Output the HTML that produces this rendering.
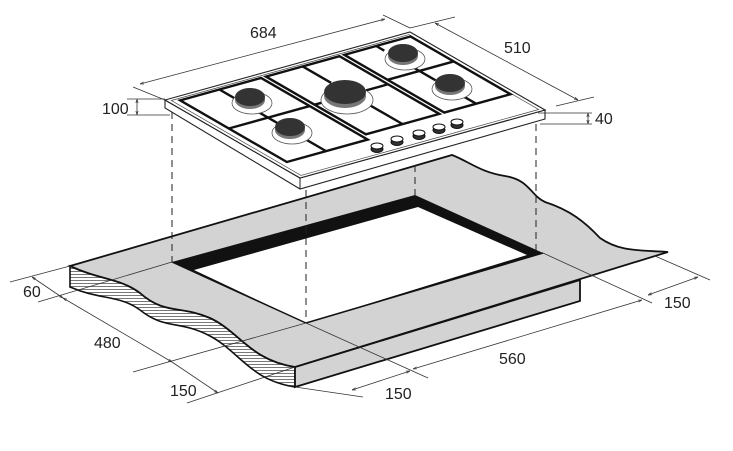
<!DOCTYPE html>
<html><head><meta charset="utf-8"><style>
html,body{margin:0;padding:0;background:#fff}
svg{display:block}
text{font-family:"Liberation Sans",sans-serif;font-size:16px;fill:#222}
</style></head><body>
<svg width="733" height="451" viewBox="0 0 733 451" xmlns="http://www.w3.org/2000/svg">
<defs>
<pattern id="hat" width="6" height="3" patternUnits="userSpaceOnUse"><rect width="6" height="3" fill="#fff"/><line x1="0" y1="1.5" x2="6" y2="1.5" stroke="#555" stroke-width="0.8"/></pattern>
<marker id="ar" viewBox="0 0 10 10" refX="10" refY="5" markerWidth="5" markerHeight="5" orient="auto-start-reverse"><path d="M0,2 L10,5 L0,8" fill="none" stroke="#333" stroke-width="1.5"/></marker>
</defs>

<!-- countertop -->
<!-- left face hatched -->
<path d="M70,266 L70,287 C100,300 120,295 140,310 C165,330 180,320 210,336 C240,352 250,380 295,387 L295,367 C250,360 240,332 210,318 C180,305 165,315 140,293 C120,278 100,280 70,266 Z" fill="url(#hat)" stroke="#111" stroke-width="1.6"/>
<!-- front face -->
<path d="M295,367 L580,280 L580,301 L295,387 Z" fill="#d3d3d3" stroke="#111" stroke-width="1.8"/>
<!-- top surface -->
<path d="M70,266 L452,155 C470,162 480,172 505,176 C530,180 530,195 545,202 C570,210 585,222 600,238 C620,252 640,250 668,252 L295,367 C250,360 240,332 210,318 C180,305 165,315 140,293 C120,278 100,280 70,266 Z" fill="#d3d3d3" stroke="#111" stroke-width="1.8"/>
<!-- cutout -->
<path d="M172,262 L415,195 L543,253 L306,323 Z" fill="#111"/>
<path d="M194,270 L418,207 L527,255 L306,323 Z" fill="#fff"/>
<line x1="172" y1="262" x2="306" y2="323" stroke="#111" stroke-width="1.5"/>
<line x1="306" y1="323" x2="543" y2="253" stroke="#111" stroke-width="1.5"/>

<!-- dashed verticals -->
<g stroke="#222" stroke-width="1" stroke-dasharray="7,5" fill="none">
<line x1="172" y1="112" x2="172" y2="262"/>
<line x1="306" y1="190" x2="306" y2="323"/>
<line x1="415" y1="165" x2="415" y2="200"/>
<line x1="536" y1="124" x2="536" y2="253"/>
</g>

<!-- hob plate -->
<path d="M165,100 L165,108 L300,189 L545,119 L545,110 L300,178 Z" fill="#fff" stroke="#222" stroke-width="1.1"/>
<line x1="300" y1="178" x2="300" y2="189" stroke="#222" stroke-width="1"/>
<g transform="matrix(2.45,-0.68,-1.35,-0.78,300,178)">
<rect x="0" y="0" width="100" height="100" fill="#fff" stroke="#222" stroke-width="1.1" vector-effect="non-scaling-stroke"/>
<rect x="1.5" y="2" width="97" height="96" fill="none" stroke="#444" stroke-width="0.7" vector-effect="non-scaling-stroke"/>
<g fill="none" stroke="#111" stroke-width="2.4" vector-effect="non-scaling-stroke">
<rect x="4" y="17" width="33" height="79" vector-effect="non-scaling-stroke"/>
<rect x="39" y="22" width="30" height="74" vector-effect="non-scaling-stroke"/>
<rect x="71" y="22" width="27" height="74" vector-effect="non-scaling-stroke"/>
<path d="M4,60 L37,60 M20,17 L20,35 M20,45 L20,75 M20,85 L20,96" vector-effect="non-scaling-stroke"/>
<path d="M39,60 L48,60 M60,60 L69,60 M54,22 L54,50 M54,75 L54,96" vector-effect="non-scaling-stroke"/>
<path d="M71,64 L98,64 M84,22 L84,40 M84,52 L84,75 M84,90 L84,96" vector-effect="non-scaling-stroke"/>
</g>
</g>
<!-- burners -->
<g>
<ellipse cx="252" cy="103" rx="20" ry="11" fill="#fff" stroke="#555" stroke-width="0.8"/>
<ellipse cx="250" cy="100" rx="15" ry="9" fill="#777"/>
<ellipse cx="250" cy="97" rx="15" ry="9" fill="#333"/>
<ellipse cx="292" cy="133" rx="20" ry="11" fill="#fff" stroke="#555" stroke-width="0.8"/>
<ellipse cx="290" cy="130" rx="15" ry="9" fill="#777"/>
<ellipse cx="290" cy="127" rx="15" ry="9" fill="#333"/>
<ellipse cx="347" cy="100" rx="26" ry="14" fill="#fff" stroke="#555" stroke-width="0.8"/>
<ellipse cx="345" cy="96" rx="21" ry="12" fill="#777"/>
<ellipse cx="345" cy="92" rx="21" ry="12" fill="#333"/>
<ellipse cx="405" cy="59" rx="20" ry="11" fill="#fff" stroke="#555" stroke-width="0.8"/>
<ellipse cx="403" cy="56" rx="15" ry="9" fill="#777"/>
<ellipse cx="403" cy="53" rx="15" ry="9" fill="#333"/>
<ellipse cx="452" cy="89" rx="20" ry="11" fill="#fff" stroke="#555" stroke-width="0.8"/>
<ellipse cx="450" cy="86" rx="15" ry="9" fill="#777"/>
<ellipse cx="450" cy="83" rx="15" ry="9" fill="#333"/>
</g>
<!-- knobs -->
<g stroke="#111" stroke-width="1">
<g fill="#333"><ellipse cx="377" cy="149" rx="6" ry="3.5"/><ellipse cx="397" cy="142" rx="6" ry="3.5"/><ellipse cx="419" cy="136" rx="6" ry="3.5"/><ellipse cx="439" cy="130" rx="6" ry="3.5"/><ellipse cx="457" cy="125" rx="6" ry="3.5"/></g>
<g fill="#fff"><ellipse cx="377" cy="146" rx="6" ry="3"/><ellipse cx="397" cy="139" rx="6" ry="3"/><ellipse cx="419" cy="133" rx="6" ry="3"/><ellipse cx="439" cy="127" rx="6" ry="3"/><ellipse cx="457" cy="122" rx="6" ry="3"/></g>
</g>

<!-- dimension lines -->
<g stroke="#333" stroke-width="0.8" fill="none">
<line x1="133" y1="87" x2="165" y2="100"/>
<line x1="383" y1="15" x2="410" y2="28"/>
<line x1="140" y1="84" x2="385" y2="19" marker-start="url(#ar)" marker-end="url(#ar)"/>
<line x1="410" y1="28" x2="455" y2="17"/>
<line x1="435" y1="23" x2="578" y2="100" marker-start="url(#ar)" marker-end="url(#ar)"/>
<line x1="556" y1="106" x2="594" y2="97"/>
<line x1="127" y1="99" x2="165" y2="99"/>
<line x1="127" y1="115" x2="170" y2="115"/>
<line x1="137" y1="99" x2="137" y2="115" marker-start="url(#ar)" marker-end="url(#ar)"/>
<line x1="538" y1="113" x2="592" y2="113"/>
<line x1="540" y1="124" x2="592" y2="124"/>
<line x1="588" y1="113" x2="588" y2="124" marker-start="url(#ar)" marker-end="url(#ar)"/>
<line x1="10" y1="282" x2="70" y2="266"/>
<line x1="38" y1="302" x2="172" y2="262"/>
<line x1="32" y1="277" x2="63" y2="298" marker-start="url(#ar)" marker-end="url(#ar)"/>
<line x1="63" y1="298" x2="172" y2="362" marker-start="url(#ar)" marker-end="url(#ar)"/>
<line x1="172" y1="362" x2="218" y2="393" marker-end="url(#ar)"/>
<line x1="133" y1="372" x2="306" y2="323"/>
<line x1="187" y1="403" x2="295" y2="367"/>
<line x1="306" y1="323" x2="428" y2="378"/>
<line x1="295" y1="387" x2="363" y2="397"/>
<line x1="352" y1="390" x2="410" y2="371" marker-start="url(#ar)" marker-end="url(#ar)"/>
<line x1="413" y1="369" x2="642" y2="300" marker-start="url(#ar)" marker-end="url(#ar)"/>
<line x1="543" y1="253" x2="652" y2="303"/>
<line x1="655" y1="256" x2="710" y2="280"/>
<line x1="648" y1="295" x2="698" y2="277" marker-start="url(#ar)" marker-end="url(#ar)"/>
</g>

<!-- labels -->
<text x="250" y="38">684</text>
<text x="504" y="53">510</text>
<text x="102" y="114">100</text>
<text x="595" y="124">40</text>
<text x="23" y="297">60</text>
<text x="94" y="348">480</text>
<text x="170" y="396">150</text>
<text x="385" y="399">150</text>
<text x="499" y="364">560</text>
<text x="664" y="308">150</text>
</svg>
</body></html>
